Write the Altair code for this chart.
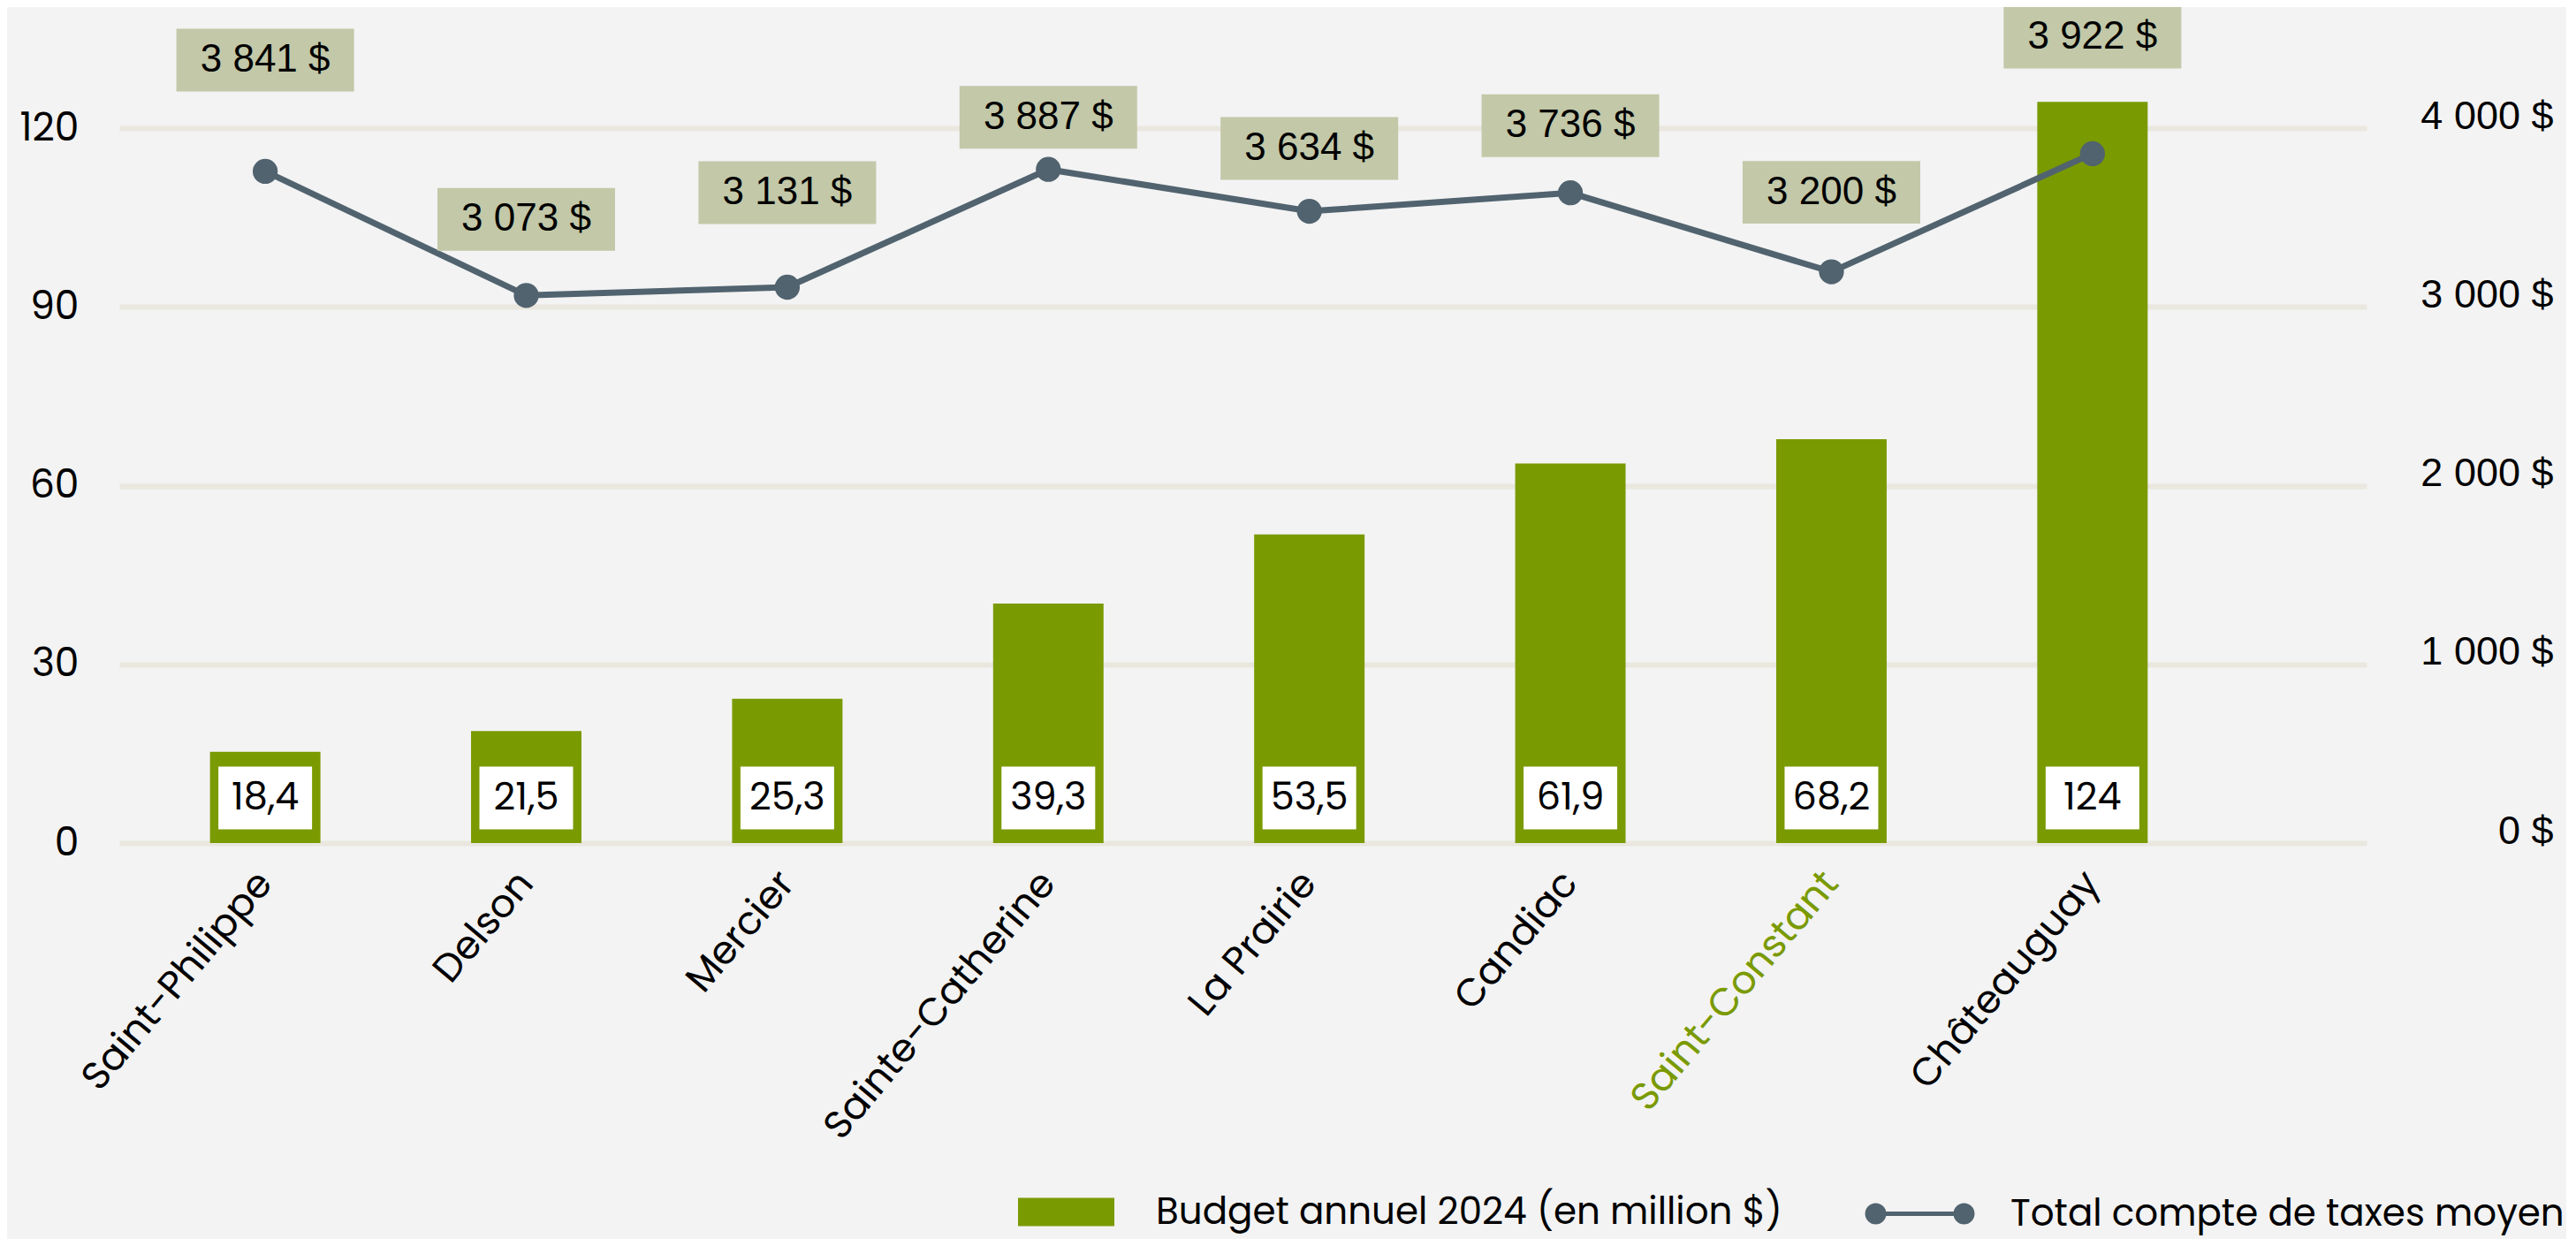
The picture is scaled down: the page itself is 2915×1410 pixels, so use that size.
import altair as alt
import pandas as pd

# ---- data ----
cities = ["Saint-Philippe", "Delson", "Mercier", "Sainte-Catherine",
          "La Prairie", "Candiac", "Saint-Constant", "Châteauguay"]
budget = [15.3, 18.8, 24.2, 40.2, 51.8, 63.7, 67.8, 124.4]          # bar heights (million $)
budget_labels = ["18,4", "21,5", "25,3", "39,3", "53,5", "61,9", "68,2", "124"]
tax = [3758, 3064, 3110, 3769, 3535, 3638, 3196, 3857]              # line points ($)
tax_labels = ["3 841 $", "3 073 $", "3 131 $", "3 887 $",
              "3 634 $", "3 736 $", "3 200 $", "3 922 $"]
label_lift_px = [126, 86, 107, 59, 71, 76, 90, 132]                 # label box lift above point

BAR_NAME = "Budget annuel 2024 (en million $)"
LINE_NAME = "Total compte de taxes moyen"

# ---- styles ----
GREEN = "#7A9A01"
SLATE = "#51636F"
BOX = "#C2C8A8"
GRID = "#EAE7DF"
BG = "#F3F3F3"
POP = "Poppins, Inter, sans-serif"
ARIAL = "Liberation Sans, Arial, sans-serif"

W, H = 2543, 809
BAR_MAX, TAX_MAX = 120, 4000
BAR_LABEL_LEVEL = 51 * BAR_MAX / H

TAX_BOX = "M-1,-0.353L1,-0.353L1,0.353L-1,0.353Z"
BAR_BOX = "M-1,-0.67L1,-0.67L1,0.67L-1,0.67Z"
BAR_SYM = "M-1,-0.294L1,-0.294L1,0.294L-1,0.294Z"
LINE_SYM = ("M-0.806,0L0.806,0"
            "M-0.959,0A0.153,0.153,0,1,0,-0.653,0A0.153,0.153,0,1,0,-0.959,0Z"
            "M0.653,0A0.153,0.153,0,1,0,0.959,0A0.153,0.153,0,1,0,0.653,0Z")

df = pd.DataFrame({
    "city": cities,
    "budget": budget,
    "budget_label": budget_labels,
    "tax": tax,
    "tax_label": tax_labels,
    "lift": label_lift_px,
})
df["tax_label_y"] = df["tax"] + df["lift"] * TAX_MAX / H
df["bar_label_y"] = BAR_LABEL_LEVEL
df["bar_series"] = BAR_NAME
df["line_series"] = LINE_NAME

base = alt.Chart(df)

x = alt.X(
    "city:N", sort=cities,
    scale=alt.Scale(paddingInner=0.577, paddingOuter=0.593, align=0.293),
    axis=alt.Axis(
        title=None, labelAngle=-50, labelAlign="right", labelBaseline="middle",
        labelFont=POP, labelFontSize=44, labelLimit=1000, labelPadding=38,
        labelColor={"expr": "datum.value === 'Saint-Constant' ? '#7A9A01' : '#000000'"},
        domain=False, ticks=False, tickSize=0, grid=False,
    ),
)

y_bar_scale = alt.Scale(domain=[0, BAR_MAX], nice=False, zero=True)
y_tax_scale = alt.Scale(domain=[0, TAX_MAX], nice=False, zero=True)

left_axis = alt.Axis(title=None, values=[0, 30, 60, 90, 120], grid=True,
                     gridColor=GRID, gridWidth=6, domain=False, ticks=False,
                     tickSize=0, labelFont=POP, labelFontSize=44,
                     labelColor="#000000", labelPadding=46,
                     labelBaseline="middle", format="d")
right_axis = alt.Axis(title=None, orient="right", values=[0, 1000, 2000, 3000, 4000],
                      grid=False, domain=False, ticks=False, tickSize=0,
                      labelFont=ARIAL, labelFontSize=45, labelColor="#000000",
                      labelAlign="right", labelBaseline="alphabetic", labelPadding=211,
                      labelExpr="replace(format(datum.value, ',d'), ',', ' ') + ' $'")

bars = base.mark_bar().encode(
    x=x,
    y=alt.Y("budget:Q", scale=y_bar_scale, axis=left_axis),
    fill=alt.Fill("bar_series:N", scale=alt.Scale(domain=[BAR_NAME], range=[GREEN]),
                  legend=alt.Legend(title=None, orient="none", legendX=1017, legendY=1172,
                                    symbolType=BAR_SYM, symbolSize=11881,
                                    symbolStrokeWidth=0, labelFont=POP,
                                    labelFontSize=42, labelColor="#000000",
                                    labelOffset=47, padding=0, labelLimit=1000)),
)

bar_boxes = base.mark_point(shape=BAR_BOX, size=11236, filled=True, color="#FFFFFF",
                            opacity=1, strokeWidth=0).encode(
    x=x, y=alt.Y("bar_label_y:Q", scale=y_bar_scale, axis=left_axis))

bar_text = base.mark_text(font=POP, fontSize=43, color="#000000", baseline="middle").encode(
    x=x, y=alt.Y("bar_label_y:Q", scale=y_bar_scale, axis=left_axis),
    text="budget_label:N")

layer_a = alt.layer(bars, bar_boxes, bar_text)

line = base.mark_line(strokeWidth=7).encode(
    x=x,
    y=alt.Y("tax:Q", scale=y_tax_scale, axis=right_axis),
    stroke=alt.Stroke("line_series:N", scale=alt.Scale(domain=[LINE_NAME], range=[SLATE]),
                      legend=alt.Legend(title=None, orient="none", legendX=1973, legendY=1164,
                                        symbolType=LINE_SYM, symbolSize=15376,
                                        symbolStrokeWidth=5, symbolFillColor=SLATE,
                                        labelFont=POP, labelFontSize=42,
                                        labelColor="#000000", labelOffset=38,
                                        padding=0, labelLimit=1000)),
)

points = base.mark_circle(size=800, color=SLATE, opacity=1).encode(
    x=x, y=alt.Y("tax:Q", scale=y_tax_scale, axis=right_axis))

tax_boxes = base.mark_point(shape=TAX_BOX, size=40401, filled=True, color=BOX,
                            opacity=1, strokeWidth=0).encode(
    x=x, y=alt.Y("tax_label_y:Q", scale=y_tax_scale, axis=right_axis))

tax_text = base.mark_text(font=ARIAL, fontSize=44, color="#000000", baseline="middle").encode(
    x=x, y=alt.Y("tax_label_y:Q", scale=y_tax_scale, axis=right_axis),
    text="tax_label:N")

layer_b = alt.layer(line, points, tax_boxes, tax_text)

chart = alt.layer(layer_a, layer_b).resolve_scale(
    y="independent", fill="independent", stroke="independent"
).properties(
    width=W, height=H, background=BG,
    padding={"left": 127, "top": 137, "right": 226, "bottom": 448},
    autosize=alt.AutoSizeParams(type="none"),
).configure_view(stroke=None)

chart.save("out.html", embed_options={"renderer": "svg", "actions": False})
